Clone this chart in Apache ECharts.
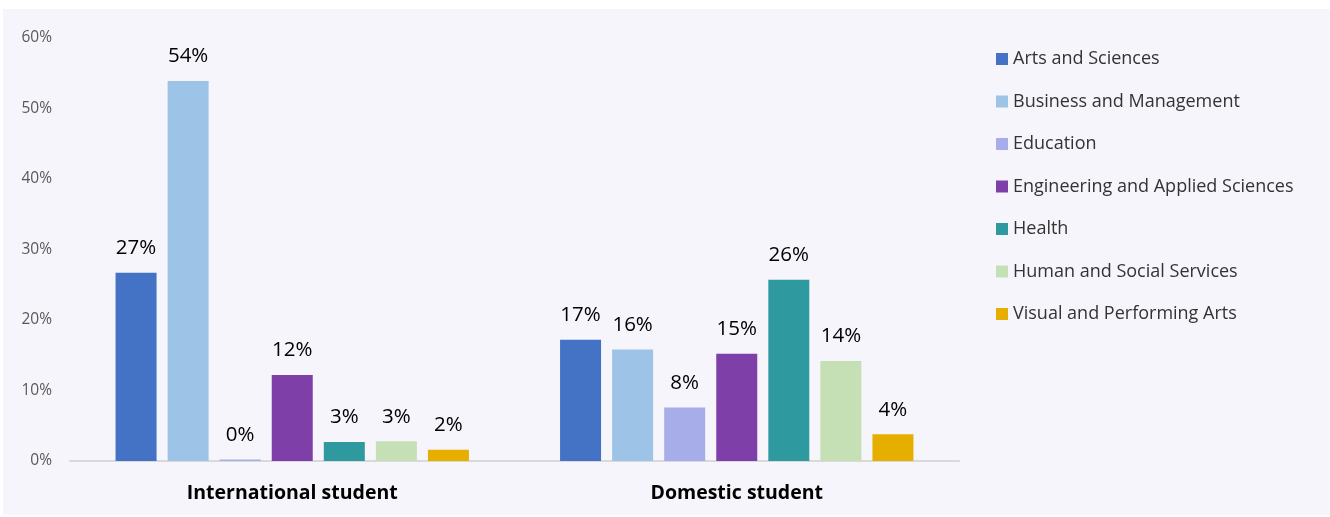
<!DOCTYPE html>
<html>
<head>
<meta charset="utf-8">
<script src="https://cdn.jsdelivr.net/npm/echarts@6/dist/echarts.min.js"></script>
<style>
  html, body { margin: 0; padding: 0; background: #ffffff; }
  #chart { position: absolute; left: 3px; top: 9px; width: 1327px; height: 506px; }
</style>
</head>
<body>
<div id="chart"></div>
<script>
const categories = ['International student', 'Domestic student'];
const seriesNames = ['Arts and Sciences', 'Business and Management', 'Education', 'Engineering and Applied Sciences', 'Health', 'Human and Social Services', 'Visual and Performing Arts'];
const artsSciences = [26.7, 17.2];
const businessMgmt = [53.9, 15.8];
const education = [0.2, 7.6];
const engineering = [12.2, 15.2];
const health = [2.7, 25.7];
const humanSocial = [2.8, 14.2];
const visualArts = [1.6, 3.8];
const yTicks = [0, 10, 20, 30, 40, 50, 60];
const colors = ['#4472C4', '#9DC3E6', '#A7ADE9', '#7E3FA8', '#2E9AA0', '#C5E0B4', '#E6AF00'];

const values = [artsSciences, businessMgmt, education, engineering, health, humanSocial, visualArts];
const FONT = '"Open Sans", "Noto Sans", sans-serif';

const chart = echarts.init(document.getElementById('chart'));
chart.setOption({
  backgroundColor: '#f5f5fb',
  animation: false,
  textStyle: { fontFamily: FONT },
  grid: { left: 67, width: 889, top: 29, height: 423, containLabel: false },
  legend: {
    orient: 'vertical',
    left: 988,
    top: 36,
    itemWidth: 12,
    itemHeight: 12,
    itemGap: 24.5,
    icon: 'rect',
    data: seriesNames,
    textStyle: { fontSize: 18, color: '#333333', fontFamily: FONT }
  },
  xAxis: {
    type: 'category',
    data: categories,
    axisLine: { lineStyle: { color: '#d9d9d9', width: 2 } },
    axisTick: { show: false },
    axisLabel: { fontSize: 19.5, fontWeight: 'bold', color: '#000000', margin: 22, fontFamily: FONT }
  },
  yAxis: {
    type: 'value',
    min: yTicks[0],
    max: yTicks[yTicks.length - 1],
    interval: 10,
    splitLine: { show: false },
    axisLine: { show: false },
    axisTick: { show: false },
    axisLabel: { formatter: '{value}%', fontSize: 15.5, color: '#595959', margin: 18, fontFamily: FONT }
  },
  series: seriesNames.map((name, i) => ({
    name: name,
    type: 'bar',
    data: values[i],
    barGap: '27%',
    barCategoryGap: '20.5%',
    itemStyle: { color: colors[i] },
    label: {
      show: true,
      position: 'top',
      distance: 14,
      fontSize: 20.5,
      color: '#000000',
      fontFamily: FONT,
      formatter: p => Math.round(p.value) + '%'
    }
  }))
});
</script>
</body>
</html>
